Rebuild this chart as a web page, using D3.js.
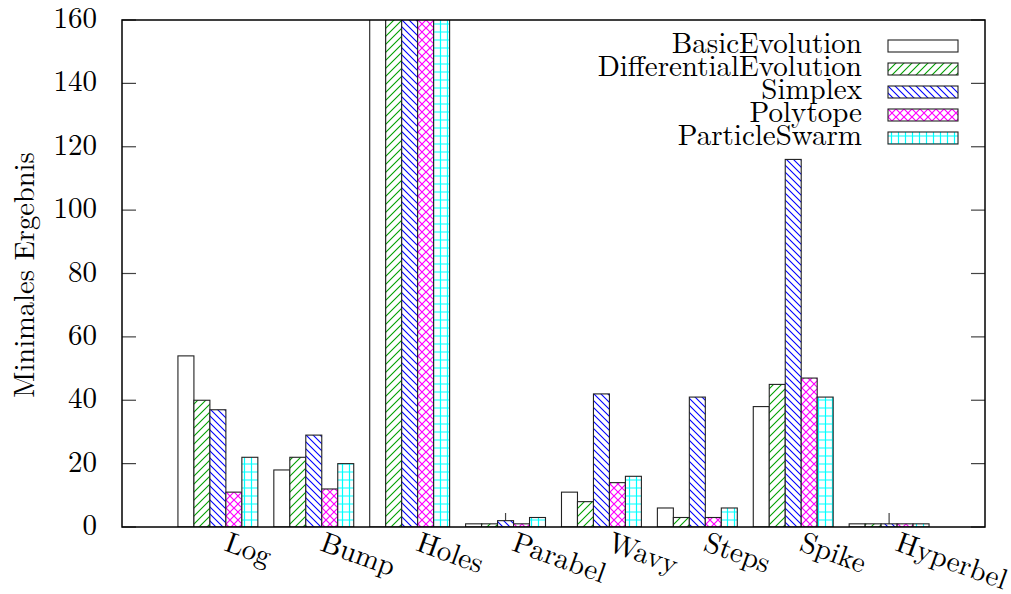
<!DOCTYPE html>
<html>
<head>
<meta charset="utf-8">
<script src="https://cdn.jsdelivr.net/npm/d3@7"></script>
<style>
  body { margin: 0; background: #fff; }
</style>
</head>
<body>
<div id="chart"></div>
<script>
// test functions on the x axis
const categories = ['Log', 'Bump', 'Holes', 'Parabel', 'Wavy', 'Steps', 'Spike', 'Hyperbel'];

// optimisers (legend order)
const seriesNames = ['BasicEvolution', 'DifferentialEvolution', 'Simplex', 'Polytope', 'ParticleSwarm'];

// minimal result per optimiser, one value per category
// (Holes runs off the top of the chart, the real value is not visible)
const basicEvolution        = [54, 18, 400, 1, 11, 6, 38, 1];
const differentialEvolution = [40, 22, 400, 1, 8, 3, 45, 1];
const simplex               = [37, 29, 400, 2, 42, 41, 116, 1];
const polytope              = [11, 12, 400, 1, 14, 3, 47, 1];
const particleSwarm         = [22, 20, 400, 3, 16, 6, 41, 1];

const yTicks = [0, 20, 40, 60, 80, 100, 120, 140, 160];

const FONT = '"Latin Modern Roman", "Liberation Serif", serif';

class Chart {

  constructor(opts) {
    this.element = opts.element;
    this.categories = opts.categories;
    this.names = opts.names;
    this.series = opts.series;
    this.draw();
  }

  draw() {
    this.width = 1011;
    this.height = 594;
    // plot frame in pixels
    this.margin = { top: 20, right: 26, bottom: 67, left: 122 };
    this.innerWidth = this.width - this.margin.left - this.margin.right;
    this.innerHeight = this.height - this.margin.top - this.margin.bottom;

    this.svg = d3.select(this.element).append('svg')
      .attr('width', this.width)
      .attr('height', this.height)
      .attr('font-family', FONT);

    this.addPatterns();

    this.plot = this.svg.append('g')
      .attr('transform', `translate(${this.margin.left},${this.margin.top})`);

    this.createScales();
    this.addAxes();
    this.addBars();
    this.addLegend();
  }

  addPatterns() {
    const defs = this.svg.append('defs');
    // gnuplot-ish fill patterns
    this.fills = ['#fff', 'url(#pat-diff)', 'url(#pat-simplex)', 'url(#pat-poly)', 'url(#pat-pso)'];

    const mk = (id, w, h) => {
      const p = defs.append('pattern')
        .attr('id', id)
        .attr('patternUnits', 'userSpaceOnUse')
        .attr('width', w)
        .attr('height', h);
      p.append('rect').attr('width', w).attr('height', h).attr('fill', '#fff');
      return p;
    };

    // green "/" hatch
    let p = mk('pat-diff', 8, 8);
    p.append('path').attr('d', 'M0,8 L8,0 M-2,2 L2,-2 M6,10 L10,6')
      .attr('stroke', '#00a000').attr('stroke-width', 1.1);

    // blue "\" hatch
    p = mk('pat-simplex', 7, 7);
    p.append('path').attr('d', 'M0,0 L7,7 M-2,5 L2,9 M5,-2 L9,2')
      .attr('stroke', '#0000ff').attr('stroke-width', 1.1);

    // magenta cross hatch
    p = mk('pat-poly', 8, 8);
    p.append('path').attr('d', 'M0,0 L8,8 M8,0 L0,8')
      .attr('stroke', '#ff00ff').attr('stroke-width', 1.2);

    // cyan grid
    p = mk('pat-pso', 7, 8);
    p.append('path').attr('d', 'M3.5,0 L3.5,8 M0,4 L7,4')
      .attr('stroke', '#00ffff').attr('stroke-width', 1.2);
  }

  createScales() {
    // one unit per category, frame spans -1 .. 8
    this.xScale = d3.scaleLinear()
      .domain([-1, this.categories.length])
      .range([0, this.innerWidth]);

    this.yScale = d3.scaleLinear()
      .domain([0, 160])
      .range([this.innerHeight, 0]);

    // 5 boxes + 1 gap per unit
    this.unit = this.xScale(1) - this.xScale(0);
    this.boxWidth = this.unit / (this.names.length + 1);
  }

  addAxes() {
    const w = this.innerWidth;
    const h = this.innerHeight;
    const tickLen = 14;

    // y ticks, left and mirrored on the right
    const yAxis = this.plot.append('g').attr('class', 'y axis');
    yAxis.selectAll('.tl')
      .data(yTicks)
      .enter().append('line')
        .attr('x1', 0).attr('x2', tickLen)
        .attr('y1', d => this.yScale(d)).attr('y2', d => this.yScale(d))
        .attr('stroke', '#444').attr('stroke-width', 1.2);
    yAxis.selectAll('.tr')
      .data(yTicks)
      .enter().append('line')
        .attr('x1', w - tickLen).attr('x2', w)
        .attr('y1', d => this.yScale(d)).attr('y2', d => this.yScale(d))
        .attr('stroke', '#444').attr('stroke-width', 1.2);
    yAxis.selectAll('text')
      .data(yTicks)
      .enter().append('text')
        .attr('x', -25)
        .attr('y', d => this.yScale(d) + 8)
        .attr('text-anchor', 'end')
        .attr('font-size', 29)
        .text(d => d);

    // x ticks (drawn under the bars) and rotated labels
    const xAxis = this.plot.append('g').attr('class', 'x axis');
    xAxis.selectAll('line')
      .data(this.categories)
      .enter().append('line')
        .attr('x1', (d, i) => this.xScale(i)).attr('x2', (d, i) => this.xScale(i))
        .attr('y1', h).attr('y2', h - tickLen)
        .attr('stroke', '#444').attr('stroke-width', 1.2);
    xAxis.selectAll('text')
      .data(this.categories)
      .enter().append('text')
        .attr('transform', (d, i) => `translate(${this.xScale(i) + 5},${h + 23}) rotate(20)`)
        .attr('font-size', 29)
        .text(d => d);

    // y axis title
    this.svg.append('text')
      .attr('transform', `translate(34, 275) rotate(-90)`)
      .attr('text-anchor', 'middle')
      .attr('font-size', 28.5)
      .text('Minimales Ergebnis');
  }

  addBars() {
    const h = this.innerHeight;
    const n = this.names.length;

    this.plot.append('clipPath').attr('id', 'clip')
      .append('rect').attr('width', this.innerWidth).attr('height', h);

    const rows = [];
    this.series.forEach((vals, s) => {
      vals.forEach((v, i) => rows.push({ s, i, v }));
    });

    this.plot.append('g')
      .attr('clip-path', 'url(#clip)')
      .selectAll('rect')
      .data(rows)
      .enter().append('rect')
        .attr('x', d => this.xScale(d.i) + (d.s - n / 2) * this.boxWidth)
        .attr('y', d => this.yScale(d.v))
        .attr('width', this.boxWidth)
        .attr('height', d => h - this.yScale(d.v))
        .attr('fill', d => this.fills[d.s])
        .attr('stroke', '#222')
        .attr('stroke-width', 1.1);

    // frame on top
    this.plot.append('rect')
      .attr('width', this.innerWidth)
      .attr('height', h)
      .attr('fill', 'none')
      .attr('stroke', '#000')
      .attr('stroke-width', 1.5);
  }

  addLegend() {
    const legend = this.plot.append('g')
      .attr('class', 'legend')
      .attr('transform', `translate(${this.innerWidth - 97}, 20)`);

    const item = legend.selectAll('g')
      .data(this.names)
      .enter().append('g')
        .attr('transform', (d, i) => `translate(0, ${i * 23})`);

    item.append('rect')
      .attr('x', 0).attr('y', 0)
      .attr('width', 70).attr('height', 12)
      .attr('fill', (d, i) => this.fills[i])
      .attr('stroke', '#222')
      .attr('stroke-width', 1.1);

    item.append('text')
      .attr('x', -26)
      .attr('y', 13)
      .attr('text-anchor', 'end')
      .attr('font-size', 29)
      .text(d => d);
  }
}

new Chart({
  element: document.getElementById('chart'),
  categories: categories,
  names: seriesNames,
  series: [basicEvolution, differentialEvolution, simplex, polytope, particleSwarm]
});
</script>
</body>
</html>
